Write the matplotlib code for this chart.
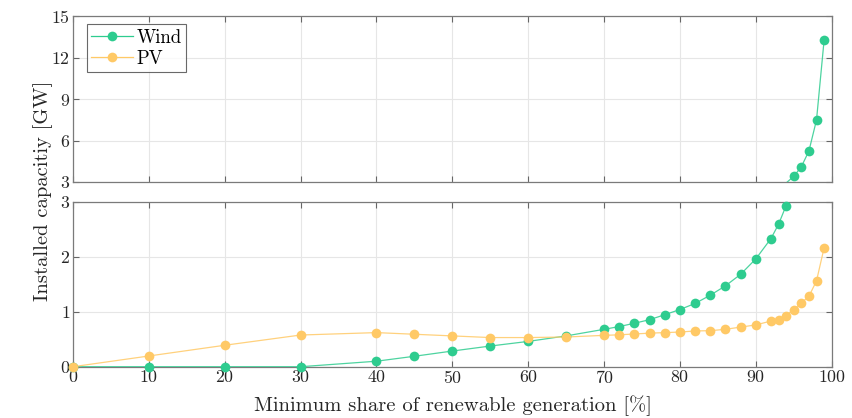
import numpy as np
import matplotlib
matplotlib.use("Agg")
import matplotlib.pyplot as plt
from matplotlib.lines import Line2D

plt.rcParams['font.family'] = 'serif'
plt.rcParams['font.serif'] = ['cmr10', 'DejaVu Serif']
plt.rcParams['mathtext.fontset'] = 'cm'
plt.rcParams['axes.formatter.use_mathtext'] = True

share = [0, 10, 20, 30, 40, 45, 50, 55, 60, 65, 70, 72, 74, 76, 78, 80, 82, 84,
         86, 88, 90, 92, 93, 94, 95, 96, 97, 98, 99]
wind = [0, 0, 0, 0, 0.10, 0.19, 0.285, 0.376, 0.46, 0.56, 0.68, 0.73, 0.79, 0.855,
        0.945, 1.04, 1.15, 1.30, 1.47, 1.68, 1.96, 2.33, 2.59, 2.93, 3.41, 4.1,
        5.24, 7.48, 13.24]
pv = [0, 0.195, 0.39, 0.576, 0.62, 0.59, 0.56, 0.53, 0.53, 0.54, 0.57, 0.58, 0.595,
      0.61, 0.62, 0.63, 0.65, 0.655, 0.68, 0.72, 0.76, 0.83, 0.85, 0.93, 1.04,
      1.16, 1.28, 1.56, 2.16]

x_ticks = [0, 10, 20, 30, 40, 50, 60, 70, 80, 90, 100]
top_yticks = [3, 6, 9, 12, 15]
bot_yticks = [0, 1, 2, 3]

c_wind = '#2ecc8f'
c_pv = '#ffc966'

fig = plt.figure(figsize=(8.53, 4.18), dpi=100)
ax_top = fig.add_axes([0.0856, 0.5646, 0.8894, 0.3971])
ax_bot = fig.add_axes([0.0856, 0.1227, 0.8894, 0.3948])

x = np.array(share)
series = [(np.array(wind), c_wind, 'Wind'), (np.array(pv), c_pv, 'PV')]

for ax, (lo, hi), yt in [(ax_top, (3, 15), top_yticks), (ax_bot, (0, 3), bot_yticks)]:
    for y, c, lab in series:
        ax.plot(x, y, '-', color=c, lw=0.9, alpha=0.85, zorder=3)
        m = (y >= lo) & (y <= hi)
        ax.plot(x[m], y[m], 'o', color=c, ms=7, mec='none', clip_on=False, zorder=4)
    ax.set_xlim(0, 100)
    ax.set_ylim(lo, hi)
    ax.set_xticks(x_ticks)
    ax.set_yticks(yt)
    ax.grid(True, color='#e6e6e6', lw=0.8, zorder=0)
    ax.set_axisbelow(True)
    ax.tick_params(direction='in', top=True, right=True, length=4, width=0.8,
                   color='#666666', labelsize=12.8, labelcolor='#262626', pad=2)
    for s in ax.spines.values():
        s.set_color('#7a7a7a')
        s.set_linewidth(0.9)

ax_top.tick_params(labelbottom=False)

handles = [Line2D([0], [0], color=c_wind, lw=0.9, marker='o', ms=7, mec='none'),
           Line2D([0], [0], color=c_pv, lw=0.9, marker='o', ms=7, mec='none')]
leg = ax_top.legend(handles, ['Wind', 'PV'], loc='upper left', bbox_to_anchor=(0.018, 0.95),
                    fontsize=13.5, frameon=True, fancybox=False, handlelength=2.2,
                    borderpad=0.25, labelspacing=0.15, handletextpad=0.2, borderaxespad=0)
leg.get_frame().set_edgecolor('#444444')
leg.get_frame().set_linewidth(0.8)

fig.text(0.051, 0.543, 'Installed capacitiy [GW]', rotation=90, ha='center', va='center',
         fontsize=14.8, color='#262626')
fig.text(0.531, 0.03, 'Minimum share of renewable generation [%]', ha='center', va='center',
         fontsize=14.8, color='#262626')

fig.savefig('out.png', dpi=100)
